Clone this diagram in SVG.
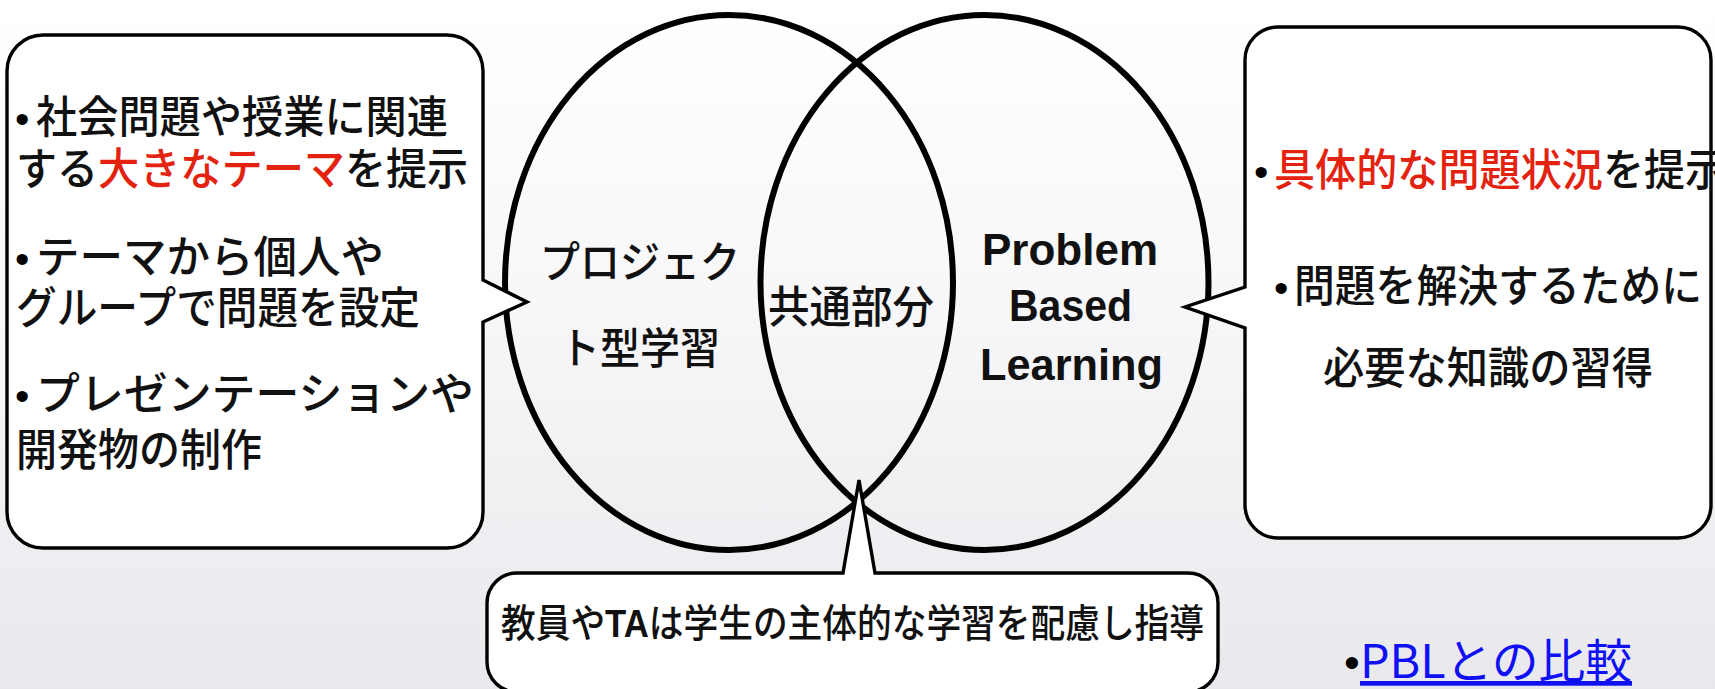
<svg xmlns="http://www.w3.org/2000/svg" width="1715" height="689" viewBox="0 0 1715 689">
  <defs>
    <linearGradient id="bg" x1="0" y1="0" x2="0" y2="1">
      <stop offset="0" stop-color="#ffffff"/>
      <stop offset="0.45" stop-color="#f7f7f9"/>
      <stop offset="1" stop-color="#e9e9ed"/>
    </linearGradient>
    <style>
      .ell { fill: none; stroke: #000; stroke-width: 6; }
      .box { fill: #fff; stroke: #000; stroke-width: 3.4; stroke-linejoin: miter; }
      .jp { font-family: "Noto Sans CJK JP", "Liberation Sans", sans-serif; font-weight: 500; fill: #111; }
      .bul { font-family: "Liberation Sans", sans-serif; fill: #000; }
      .red { fill: #e3220f; }
      .en { font-family: "Liberation Sans", "Noto Sans", sans-serif; font-weight: bold; fill: #111; }
      .link { fill: #1010f5; font-weight: normal; }
    </style>
  </defs>

  <rect x="0" y="0" width="1715" height="689" fill="url(#bg)"/>

  <g id="connectors">
    <ellipse class="ell" cx="729" cy="282.5" rx="224" ry="267.5"/>
    <ellipse class="ell" cx="984.5" cy="282.5" rx="224" ry="267.5"/>
  </g>

  <g id="project-label">
    <text class="jp" font-size="43" x="540" y="278" textLength="200" lengthAdjust="spacingAndGlyphs">プロジェク</text>
    <text class="jp" font-size="43" x="560" y="364" textLength="160" lengthAdjust="spacingAndGlyphs">ト型学習</text>
  </g>

  <g id="common-label">
    <text class="jp" font-size="44" x="768" y="323" textLength="166" lengthAdjust="spacingAndGlyphs">共通部分</text>
  </g>

  <g id="pbl-label">
    <text class="en" font-size="44" x="982" y="265" textLength="176" lengthAdjust="spacingAndGlyphs">Problem</text>
    <text class="en" font-size="44" x="1009" y="321" textLength="123" lengthAdjust="spacingAndGlyphs">Based</text>
    <text class="en" font-size="44" x="980" y="380" textLength="183" lengthAdjust="spacingAndGlyphs">Learning</text>
  </g>

  <g id="left-callout">
    <path class="box" d="M43,35 H447 A36,36 0 0 1 483,71 V280 L527,302 L483,322 V512 A36,36 0 0 1 447,548 H43 A36,36 0 0 1 7,512 V71 A36,36 0 0 1 43,35 Z"/>
    <text class="jp" font-size="44" y="133"><tspan class="bul" font-size="41" x="15">•</tspan><tspan x="36" textLength="412" lengthAdjust="spacingAndGlyphs">社会問題や授業に関連</tspan></text>
    <text class="jp" font-size="44" y="185"><tspan x="16" textLength="82" lengthAdjust="spacingAndGlyphs">する</tspan><tspan class="red" x="98" textLength="247" lengthAdjust="spacingAndGlyphs">大きなテーマ</tspan><tspan x="345" textLength="123" lengthAdjust="spacingAndGlyphs">を提示</tspan></text>
    <text class="jp" font-size="44" y="273"><tspan class="bul" font-size="41" x="15">•</tspan><tspan x="36" textLength="348" lengthAdjust="spacingAndGlyphs">テーマから個人や</tspan></text>
    <text class="jp" font-size="44" y="324" x="16" textLength="404" lengthAdjust="spacingAndGlyphs">グループで問題を設定</text>
    <text class="jp" font-size="44" y="410"><tspan class="bul" font-size="41" x="15">•</tspan><tspan x="36" textLength="438" lengthAdjust="spacingAndGlyphs">プレゼンテーションや</tspan></text>
    <text class="jp" font-size="44" y="466" x="16" textLength="246" lengthAdjust="spacingAndGlyphs">開発物の制作</text>
  </g>

  <g id="right-callout">
    <path class="box" d="M1278,27 H1678 A33,33 0 0 1 1711,60 V505 A33,33 0 0 1 1678,538 H1278 A33,33 0 0 1 1245,505 V328 L1185,307 L1245,287 V60 A33,33 0 0 1 1278,27 Z"/>
    <text class="jp" font-size="44" y="186"><tspan class="bul" font-size="41" x="1254">•</tspan><tspan x="1274" class="red" textLength="329" lengthAdjust="spacingAndGlyphs">具体的な問題状況</tspan><tspan x="1603" textLength="123" lengthAdjust="spacingAndGlyphs">を提示</tspan></text>
    <text class="jp" font-size="44" y="302"><tspan class="bul" font-size="41" x="1274">•</tspan><tspan x="1294" textLength="408" lengthAdjust="spacingAndGlyphs">問題を解決するために</tspan></text>
    <text class="jp" font-size="44" y="384" x="1323" textLength="330" lengthAdjust="spacingAndGlyphs">必要な知識の習得</text>
  </g>

  <g id="bottom-callout">
    <path class="box" d="M517,573 H843 L859,480 L875,573 H1188 A30,30 0 0 1 1218,603 V662 A30,30 0 0 1 1188,692 H517 A30,30 0 0 1 487,662 V603 A30,30 0 0 1 517,573 Z"/>
    <text class="jp" font-size="39" y="637" x="501" textLength="703" lengthAdjust="spacingAndGlyphs">教員や<tspan font-family="Liberation Sans" font-weight="bold">TA</tspan>は学生の主体的な学習を配慮し指導</text>
  </g>

  <g id="pbl-link">
    <text class="jp" font-size="47" y="678"><tspan class="bul" font-size="45" x="1344">•</tspan><tspan x="1360" class="link" text-decoration="underline" textLength="272" lengthAdjust="spacingAndGlyphs">PBLとの比較</tspan></text>
  </g>
</svg>
